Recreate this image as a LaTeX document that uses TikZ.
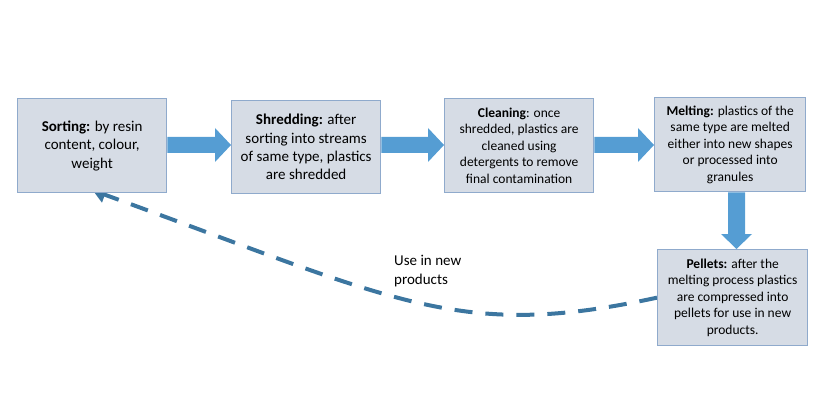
\documentclass[tikz,border=0pt]{standalone}
\usepackage{fontspec}
\setmainfont{Carlito}
\usetikzlibrary{calc,arrows.meta,backgrounds}
\definecolor{boxfill}{HTML}{D6DCE5}
\definecolor{boxline}{HTML}{8FAACC}
\definecolor{blk}{HTML}{559DD3}
\definecolor{dashc}{HTML}{3C76A0}
\tikzset{
  stage/.style={draw=boxline, fill=boxfill, line width=1.3pt, inner sep=0pt,
    minimum width=149pt, align=center, anchor=north west},
  bigtxt/.style={font=\fontsize{15}{18.4}\selectfont},
  smalltxt/.style={font=\fontsize{13.5}{16.5}\selectfont},
  blockarrow/.style={fill=blk, draw=none},
  loopline/.style={draw=dashc, line width=4pt, dash pattern=on 18pt off 13pt,
    -{Triangle[width=16pt,length=13pt]}},
}
\newcommand\harrow[2]{%
  \path[blockarrow] (#1.east |- 0,137) -- ($(#2.west |- 0,137)+(-16,0)$)
    -- ($(#2.west |- 0,128)+(-16,0)$) -- (#2.west |- 0,145)
    -- ($(#2.west |- 0,162)+(-16,0)$) -- ($(#2.west |- 0,153)+(-16,0)$)
    -- (#1.east |- 0,153) -- cycle;}
\begin{document}
\begin{tikzpicture}[x=1pt,y=-1pt]
\useasboundingbox (0,0) rectangle (821,406);
\node[stage, bigtxt, minimum height=94pt] (sort) at (17,98)
  {\textbf{Sorting:} by resin\\content, colour,\\weight};
\node[stage, bigtxt, minimum height=93pt] (shred) at (231,100)
  {\textbf{Shredding:} after\\sorting into streams\\of same type, plastics\\are shredded};
\node[stage, smalltxt, minimum height=94pt] (clean) at (444,98)
  {\textbf{Cleaning}: once\\shredded, plastics are\\cleaned using\\detergents to remove\\final contamination};
\node[stage, smalltxt, minimum width=151pt, minimum height=94pt] (melt) at (654,97)
  {\textbf{Melting:} plastics of the\\same type are melted\\either into new shapes\\or processed into\\granules};
\node[stage, smalltxt, minimum width=150pt, minimum height=96pt] (pel) at (657,249)
  {\textbf{Pellets:} after the\\melting process plastics\\are compressed into\\pellets for use in new\\products.};
\node[anchor=west, align=left, inner sep=0pt, font=\fontsize{15}{18.2}\selectfont] (lbl) at (394,271)
  {Use in new\\products};
\harrow{sort}{shred}
\harrow{shred}{clean}
\harrow{clean}{melt}
\path[blockarrow] (728,0 |- melt.south) -- (728,234) -- (721,234) -- (736.5,0 |- pel.north)
  -- (752,234) -- (745,234) -- (745,0 |- melt.south) -- cycle;
\begin{pgfonlayer}{background}
\draw[loopline] (pel.west) .. controls (457,341) and (398,301) .. ($(sort.south west)!0.53!(sort.south east)+(-4,-3)$);
\end{pgfonlayer}
\end{tikzpicture}
\end{document}
